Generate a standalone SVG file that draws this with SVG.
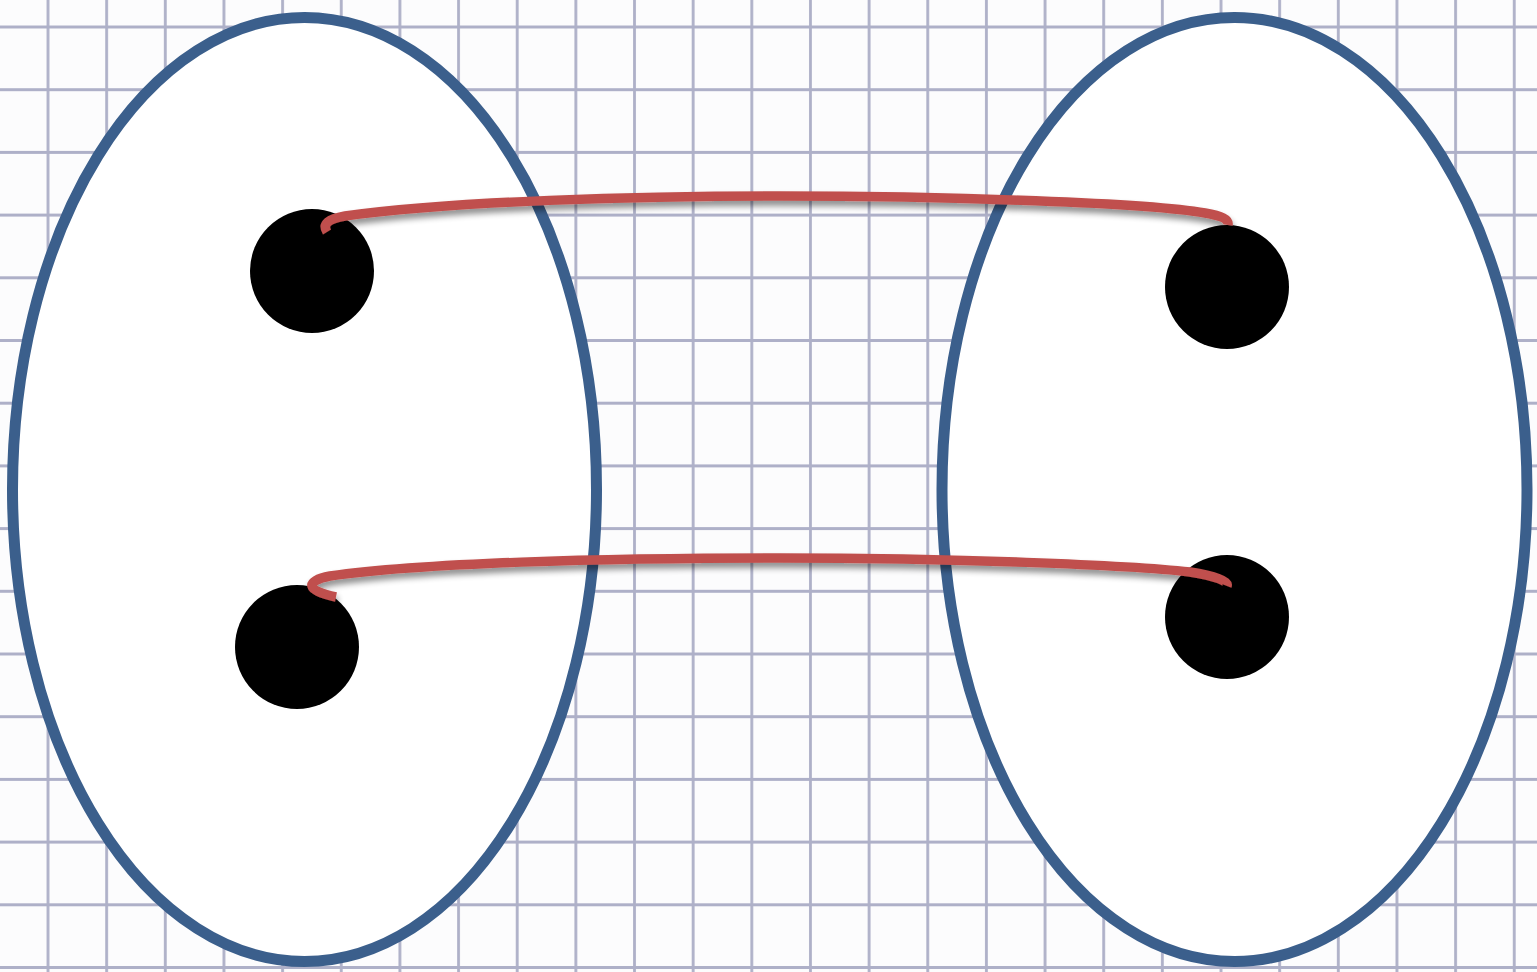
<svg xmlns="http://www.w3.org/2000/svg" width="1537" height="972" viewBox="0 0 1537 972">
<defs>
<pattern id="grid" x="18.7" y="-4.35" width="58.65" height="62.7" patternUnits="userSpaceOnUse">
<path d="M 29.3 0 V 62.7 M 0 31.35 H 58.65" fill="none" stroke="#aeb0c8" stroke-width="2.8"/>
</pattern>
<filter id="sh" x="-5%" y="-50%" width="110%" height="300%">
<feGaussianBlur in="SourceAlpha" stdDeviation="3"/>
<feOffset dx="1" dy="5" result="b"/>
<feComponentTransfer><feFuncA type="linear" slope="0.45"/></feComponentTransfer>
<feMerge><feMergeNode/><feMergeNode in="SourceGraphic"/></feMerge>
</filter>
<style>
.set{fill:#ffffff;stroke:#3b5f8c;stroke-width:11}
.dot{fill:#000000}
.edge{fill:none;stroke:#c0504d;stroke-width:9.5;filter:url(#sh)}
</style>
</defs>
<rect width="1537" height="972" fill="#fcfcfd"/>
<rect width="1537" height="972" fill="url(#grid)"/>
<g id="set-left"><ellipse class="set" cx="304.5" cy="489.5" rx="292" ry="472"/></g>
<g id="set-right"><ellipse class="set" cx="1234.5" cy="489.5" rx="292.5" ry="472"/></g>
<g id="dot-left-top"><circle class="dot" cx="312" cy="271" r="62"/></g>
<g id="dot-left-bottom"><circle class="dot" cx="297" cy="647" r="62"/></g>
<g id="dot-right-top"><circle class="dot" cx="1227" cy="287" r="62"/></g>
<g id="dot-right-bottom"><circle class="dot" cx="1227" cy="617" r="62"/></g>
<g id="connectors">
<path class="edge" d="M 327 232 C 322 224 328 219 345 216 C 450 201 640 196 780 196 C 950 196 1150 203 1205 213 C 1222 216 1229 219 1228 225"/>
<path class="edge" d="M 336 597 C 306 591 304 581 330 576 C 420 563 600 558 780 558 C 950 558 1130 565 1190 572 C 1215 576 1229 581 1227 586"/>
</g>
</svg>
